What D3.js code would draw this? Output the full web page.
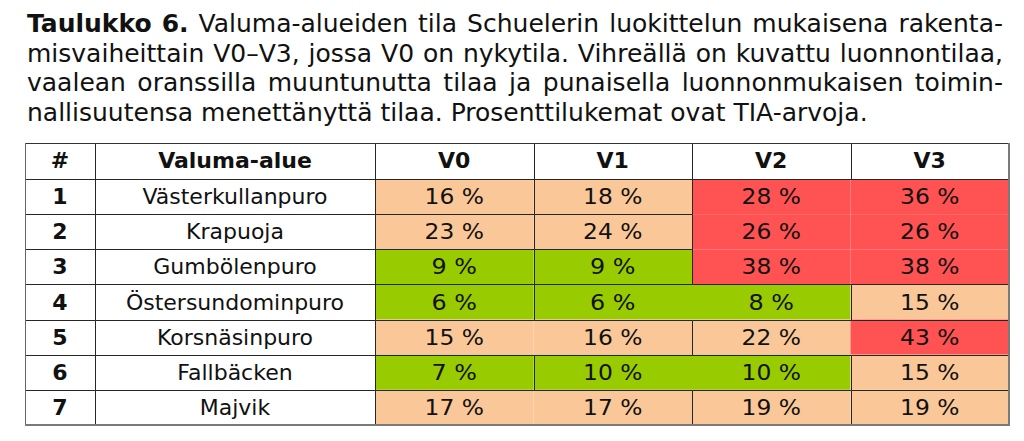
<!DOCTYPE html>
<html><head><meta charset="utf-8">
<script src="https://cdn.jsdelivr.net/npm/d3@7"></script>
<style>body{margin:0;background:#fff}svg{display:block}</style>
</head><body><svg id="c" width="1024" height="441"></svg>
<script>
// ---- data ----
const titleBold = "Taulukko 6.";
const titleLines = [
  "Taulukko 6. Valuma-alueiden tila Schuelerin luokittelun mukaisena rakenta-",
  "misvaiheittain V0–V3, jossa V0 on nykytila. Vihreällä on kuvattu luonnontilaa,",
  "vaalean oranssilla muuntunutta tilaa ja punaisella luonnonmukaisen toimin-",
  "nallisuutensa menettänyttä tilaa. Prosenttilukemat ovat TIA-arvoja."
];
const idHeader = "#";
const nameHeader = "Valuma-alue";
const ids = ["1","2","3","4","5","6","7"];
const names = ["Västerkullanpuro","Krapuoja","Gumbölenpuro","Östersundominpuro","Korsnäsinpuro","Fallbäcken","Majvik"];
const stages = ["V0","V1","V2","V3"];
const v0 = [16,23,9,6,15,7,17];
const v1 = [18,24,9,6,16,10,17];
const v2 = [28,26,38,8,22,10,19];
const v3 = [36,26,38,15,43,15,19];
const classBreaks = [11, 26];            // Schueler: 0–10, 11–25, >25
const classColors = ["#99cc00", "#fac898", "#ff5252"];
// borders absent in the reference (merged shading)
const hiddenV = [["5","V0"],["7","V0"],["4","V1"],["6","V1"],["1","V2"],["2","V2"],["3","V2"],["5","V2"]];
const hiddenH = [["1","V2"],["1","V3"],["2","V2"],["2","V3"]];

const values = {V0: v0, V1: v1, V2: v2, V3: v3};

(function draw() {
const svg = d3.select("#c");
const font = "'DejaVu Sans', Verdana, sans-serif";
const color = d3.scaleThreshold().domain(classBreaks).range(classColors);

const L = 25, R = 1009, T = 143, headH = 36, B = 425;
const xId = [25, 95], xName = [95, 375];
const x = d3.scaleBand().domain(stages).range([375, R]);
const y = d3.scaleBand().domain(ids).range([T + headH, B]);

// ---- title (justified) ----
const tFont = 25, tLeft = 27, tRight = 1003, tBase = 32, tLead = 29.6;
const tg = svg.append("g").attr("font-family", font).attr("font-size", tFont).attr("fill", "#111");
const boldWords = titleBold.split(" ");
titleLines.forEach((line, i) => {
  const words = line.split(" ");
  const yy = tBase + i * tLead;
  if (i === titleLines.length - 1) {
    tg.append("text").attr("x", tLeft).attr("y", yy).text(line);
    return;
  }
  const els = words.map((w, j) => tg.append("text")
      .attr("y", yy)
      .attr("font-weight", (i === 0 && j < boldWords.length) ? "bold" : "normal")
      .text(w));
  const widths = els.map(e => e.node().getComputedTextLength());
  const gap = (tRight - tLeft - d3.sum(widths)) / (words.length - 1);
  let cx = tLeft;
  els.forEach((e, j) => { e.attr("x", cx); cx += widths[j] + gap; });
});

// ---- table ----
const rows = ids.map((id, i) => ({id, name: names[i]}));
const cells = [];
rows.forEach((r, i) => stages.forEach(s => cells.push({id: r.id, stage: s, v: values[s][i]})));

const g = svg.append("g");
g.append("rect").attr("x", L).attr("y", T).attr("width", R - L).attr("height", B - T).attr("fill", "#fff");
g.selectAll("rect.cell").data(cells).join("rect").attr("class","cell")
  .attr("x", d => x(d.stage)).attr("y", d => y(d.id))
  .attr("width", x.bandwidth()).attr("height", y.bandwidth())
  .attr("fill", d => color(d.v));

const lineCol = "#262626";
const isHidden = (list, id, s) => list.some(p => p[0] === id && p[1] === s);
const colEdges = [
  {key: "id", x1: xId[0], x2: xId[1]},
  {key: "name", x1: xName[0], x2: xName[1]},
  ...stages.map(s => ({key: s, x1: x(s), x2: x(s) + x.bandwidth()}))
];
const segs = [];
segs.push({x1: L, x2: R, y1: T + headH, y2: T + headH});
ids.slice(0, -1).forEach(id => {
  const yy = y(id) + y.bandwidth();
  colEdges.forEach(c => { if (!isHidden(hiddenH, id, c.key)) segs.push({x1: c.x1, x2: c.x2, y1: yy, y2: yy}); });
});
colEdges.slice(0, -1).forEach(c => {
  segs.push({x1: c.x2, x2: c.x2, y1: T, y2: T + headH});
  ids.forEach(id => {
    if (!isHidden(hiddenV, id, c.key)) segs.push({x1: c.x2, x2: c.x2, y1: y(id), y2: y(id) + y.bandwidth()});
  });
});
g.selectAll("line.grid").data(segs).join("line").attr("class","grid")
  .attr("x1", d => Math.round(d.x1) + 0.5).attr("x2", d => Math.round(d.x2) + 0.5)
  .attr("y1", d => Math.round(d.y1) + 0.5).attr("y2", d => Math.round(d.y2) + 0.5)
  .attr("stroke", lineCol).attr("stroke-width", 1);
g.append("line").attr("x1", L).attr("x2", R).attr("y1", T + 0.5).attr("y2", T + 0.5).attr("stroke", "#333");
g.append("line").attr("x1", L + 0.5).attr("x2", L + 0.5).attr("y1", T).attr("y2", B).attr("stroke", "#666");
g.append("line").attr("x1", R).attr("x2", R).attr("y1", T).attr("y2", B + 1).attr("stroke", "#7a7a7a").attr("stroke-width", 2);
g.append("line").attr("x1", L).attr("x2", R + 1).attr("y1", B).attr("y2", B).attr("stroke", "#7a7a7a").attr("stroke-width", 2);

const fs = 22, dy = 7.5;
const tx = g.append("g").attr("font-family", font).attr("font-size", fs).attr("text-anchor", "middle").attr("fill", "#111");
const hy = T + headH / 2 + 7;
tx.append("text").attr("x", d3.mean(xId)).attr("y", hy).attr("font-weight","bold").text(idHeader);
tx.append("text").attr("x", d3.mean(xName)).attr("y", hy).attr("font-weight","bold").text(nameHeader);
tx.selectAll("text.sh").data(stages).join("text").attr("class","sh")
  .attr("x", s => x(s) + x.bandwidth() / 2).attr("y", hy).attr("font-weight","bold").text(s => s);
tx.selectAll("text.id").data(rows).join("text").attr("class","id")
  .attr("x", d3.mean(xId)).attr("y", d => y(d.id) + y.bandwidth() / 2 + dy).attr("font-weight","bold").text(d => d.id);
tx.selectAll("text.nm").data(rows).join("text").attr("class","nm")
  .attr("x", d3.mean(xName)).attr("y", d => y(d.id) + y.bandwidth() / 2 + dy).text(d => d.name);
tx.selectAll("text.v").data(cells).join("text").attr("class","v")
  .attr("x", d => x(d.stage) + x.bandwidth() / 2).attr("y", d => y(d.id) + y.bandwidth() / 2 + dy)
  .text(d => d.v + " %")
  .each(function() {
    const w = this.getComputedTextLength();
    d3.select(this).attr("textLength", w + 3.5).attr("lengthAdjust", "spacingAndGlyphs");
  });
})();
</script></body></html>
